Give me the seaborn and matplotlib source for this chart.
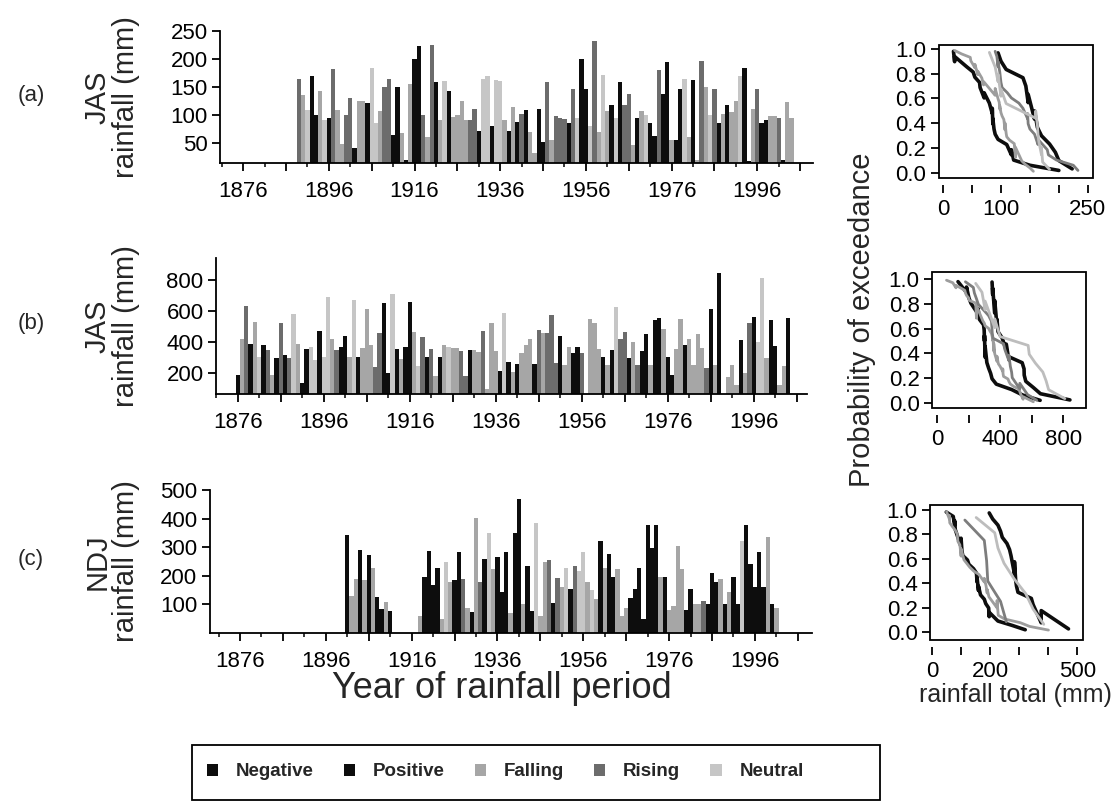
import numpy as np
import pandas as pd
import matplotlib
matplotlib.use("Agg")
import matplotlib.pyplot as plt
import seaborn as sns
from matplotlib.patches import Patch, Rectangle

sns.set_theme(style="ticks")
plt.rcParams['font.family'] = ['Liberation Sans', 'DejaVu Sans']
plt.rcParams['axes.linewidth'] = 1.3

# ---------------- data ----------------
PHASES = ["Negative", "Positive", "Falling", "Rising", "Neutral"]
CODES = {"N": "Negative", "P": "Positive", "F": "Falling", "R": "Rising", "U": "Neutral"}

# (a) JAS rainfall, 1889-2004
A_START = 1889
A_RAIN = [164, 136, 109, 170, 100, 142, 90, 95, 182, 109,
          48, 100, 131, 41, 125, 125, 122, 184, 85, 107,
          150, 164, 64, 150, 67, 20, 156, 200, 223, 99,
          60, 225, 158, 90, 160, 143, 97, 100, 125, 90,
          90, 111, 71, 164, 170, 80, 163, 160, 90, 71,
          115, 88, 102, 109, 70, 32, 110, 52, 158, 55,
          98, 95, 93, 85, 146, 95, 200, 147, 80, 233,
          70, 172, 107, 118, 95, 158, 118, 138, 47, 95,
          107, 100, 86, 63, 180, 138, 194, 55, 55, 147,
          165, 60, 163, 20, 196, 150, 100, 147, 86, 102,
          118, 105, 125, 170, 184, 18, 110, 146, 85, 90,
          98, 98, 95, 20, 123, 95]
A_PHASE = ("R F U P P F U N R F "
           "F R R N F F N U U F "
           "R R N N F N F N P R "
           "F R P F U P F F F F "
           "R R N U U N U U F N "
           "F N R P F F N N R F "
           "R R R N R U P P U R "
           "F U F N U P R R F P "
           "F U N N R P P F N P "
           "U F P F R F U R N F "
           "N F F U P N F R N N "
           "F F R N F F").split()

# (b) JAS rainfall, 1876-2004 (None = no bar)
B_START = 1876
B_RAIN = [187, 417, 632, 387, 531, 305, 380, 348, 187, 295,
          525, 316, 295, 578, 389, 133, 353, 366, 285, 473,
          305, 692, 419, 350, 366, 439, 305, 671, 305, 360,
          611, 380, 237, 456, 654, 202, 708, 353, 290, 366,
          656, 465, 245, 430, 305, 355, 180, 305, 380, 366,
          360, 360, 345, 180, 349, 349, 335, 473, 100, 520,
          345, 215, 585, 269, 205, 260, 327, 380, 417, 260,
          477, 456, 456, 574, 262, 439, 250, 366, 327, 366,
          327, 60, 546, 525, 355, 301, 250, 349, 624, 422,
          465, 299, 400, 250, 340, 452, 250, 542, 552, 487,
          301, 187, 355, 546, 380, 422, 250, 450, 360, 230,
          611, 250, 843, None, 176, 250, 120, 413, 200, 525,
          563, 400, 811, 300, 540, 376, 120, 245, 553]
B_PHASE = ("N F R P F U P R F N "
           "R N R U F N P U U N "
           "U U F R P P F U N F "
           "F F R R N N U P F P "
           "P F U R N R F N F U "
           "F F R R P F F R F F "
           "F N U N F N F F F N "
           "R F R R R P F F N P "
           "R F F F F N F N U R "
           "R N F R N P F N P F "
           "N N F F P F F F F R "
           "P F P - F F F P F R "
           "P U U F P N F F P").split()

# (c) NDJ rainfall, 1901-2001 (None = no bar)
C_START = 1901
C_RAIN = [342, 130, 190, 291, 186, 272, 227, 127, 85, 110,
          78, None, None, None, None, None, None, 61, 195, 288,
          167, 227, 50, 248, 180, 185, 284, 188, 89, 73,
          401, 180, 258, 348, 224, 267, 143, 284, 70, 348,
          470, 100, 236, 78, 385, 60, 250, 256, 106, 192,
          162, 227, 153, 236, 216, 282, 180, 152, 120, 321,
          228, 276, 197, 224, 60, 87, 122, 155, 227, 49,
          376, 296, 376, 196, 197, 80, 96, 304, 224, 80,
          155, 100, 100, 113, 103, 209, 180, 190, 100, 143,
          197, 100, 323, 376, 242, 160, 284, 160, 336, 100,
          88]
C_PHASE = ("P F F P F P F N N F "
           "N - - - - - - F N P "
           "N N F U F N P R F N "
           "F R P U F P N P F P "
           "P F P N U F F R N R "
           "F U N R U U F U F N "
           "F N N F F F N N P N "
           "P P P F N F F F F N "
           "N F F R N P N F N F "
           "P N U P P N P N F N "
           "F").split()

BAR_COLORS = {"Negative": "#0d0d0d", "Positive": "#0d0d0d", "Falling": "#a6a6a6",
              "Rising": "#6c6c6c", "Neutral": "#c6c6c6"}
LINE_COLORS = {"Negative": "#0d0d0d", "Positive": "#0d0d0d", "Falling": "#9d9d9d",
               "Rising": "#7d7d7d", "Neutral": "#bdbdbd"}
LINE_WIDTHS = {"Negative": 2.6, "Positive": 2.6, "Falling": 2.0, "Rising": 2.0, "Neutral": 2.0}


def make_df(start, rain, phase):
    df = pd.DataFrame({"year": np.arange(start, start + len(rain)),
                       "rain": rain, "code": phase})
    df = df[df["code"] != "-"].copy()
    df["rain"] = df["rain"].astype(float)
    df["phase"] = df["code"].map(CODES)
    return df


def exceedance(df):
    rows = []
    for ph in PHASES:
        v = np.sort(df.loc[df["phase"] == ph, "rain"].values)
        n = len(v)
        p = 1 - (np.arange(1, n + 1) - 0.5) / n
        rows.append(pd.DataFrame({"rain": v, "prob": p, "phase": ph}))
    return pd.concat(rows, ignore_index=True)


W, H = 1119, 810
fig = plt.figure(figsize=(W / 100, H / 100), dpi=100)


def fax(l, r, t, b):
    return fig.add_axes([l / W, 1 - b / H, (r - l) / W, (b - t) / H])


TFS = 16
panels = [
    dict(df=make_df(A_START, A_RAIN, A_PHASE), box=(220, 813, 31, 163), xlim=(1870.6, 2009.0),
         ylim=(14, 250), yticks=[50, 100, 150, 200, 250], lab="(a)", ylab="JAS\nrainfall (mm)",
         rbox=(939, 1093, 45, 178), rxlim=(-7, 259), rylim=(-0.04, 1.03),
         rxt=[0, 50, 100, 150, 200, 250], rxl=["0", "", "100", "", "", "250"]),
    dict(df=make_df(B_START, B_RAIN, B_PHASE), box=(216, 807, 258, 394), xlim=(1870.95, 2008.4),
         ylim=(65, 942), yticks=[200, 400, 600, 800], lab="(b)", ylab="JAS\nrainfall (mm)",
         rbox=(932, 1086, 272, 408), rxlim=(-32, 945), rylim=(-0.04, 1.056),
         rxt=[0, 200, 400, 600, 800], rxl=["0", "", "400", "", "800"]),
    dict(df=make_df(C_START, C_RAIN, C_PHASE), box=(210, 812, 490, 633), xlim=(1869.0, 2009.3),
         ylim=(0, 500), yticks=[100, 200, 300, 400, 500], lab="(c)", ylab="NDJ\nrainfall (mm)",
         rbox=(930, 1083, 505, 640), rxlim=(-7, 520), rylim=(-0.066, 1.04),
         rxt=[0, 100, 200, 300, 400, 500], rxl=["0", "", "200", "", "", "500"]),
]

xt_major = np.arange(1876, 2010, 10)
xt_labels = [str(y) if (y - 1876) % 20 == 0 else "" for y in xt_major]

for P in panels:
    l, r, t, b = P["box"]
    ax = fax(l, r, t, b)
    sns.barplot(data=P["df"], x="year", y="rain", hue="phase", hue_order=PHASES,
                palette=BAR_COLORS, native_scale=True, dodge=False, width=1.0,
                errorbar=None, saturation=1, legend=False, linewidth=0, ax=ax)
    ax.set_xlim(*P["xlim"])
    ax.set_ylim(*P["ylim"])
    ax.set_xticks(xt_major)
    ax.set_xticklabels(xt_labels)
    ax.set_xticks(np.arange(1871, 2010, 5), minor=True)
    ax.set_yticks(P["yticks"])
    ax.tick_params(axis="both", which="major", labelsize=TFS, length=6, width=1.3,
                   color="black", labelcolor="black")
    ax.tick_params(axis="x", which="major", pad=7)
    ax.tick_params(axis="y", which="major", pad=3)
    ax.tick_params(axis="x", which="minor", length=3, width=1.1, color="black")
    ax.set_xlabel("")
    ax.set_ylabel("")
    ax.set_facecolor("none")
    sns.despine(ax=ax)
    for s in ("left", "bottom"):
        ax.spines[s].set_color("black")
    cy = (t + b) / 2
    fig.text(112 / W, 1 - cy / H, P["ylab"], rotation=90, ha="center", va="center",
             multialignment="center", fontsize=21, linespacing=1.0)
    fig.text(31 / W, 1 - (cy - 2) / H, P["lab"], ha="center", va="center", fontsize=16)

    # exceedance panel
    l, r, t, b = P["rbox"]
    rx = fax(l, r, t, b)
    ex = exceedance(P["df"])
    sns.lineplot(data=ex, x="rain", y="prob", hue="phase", hue_order=PHASES,
                 palette=LINE_COLORS, size="phase", sizes=LINE_WIDTHS, size_order=PHASES,
                 estimator=None, sort=True, legend=False, ax=rx)
    rx.set_xlim(*P["rxlim"])
    rx.set_ylim(*P["rylim"])
    rx.set_yticks([0, 0.2, 0.4, 0.6, 0.8, 1.0])
    rx.set_yticklabels(["0.0", "0.2", "0.4", "0.6", "0.8", "1.0"])
    rx.set_xticks(P["rxt"])
    rx.set_xticklabels(P["rxl"])
    rx.tick_params(axis="both", labelsize=TFS, length=6, width=1.3, color="black",
                   labelcolor="black")
    rx.tick_params(axis="x", pad=4)
    rx.tick_params(axis="y", pad=3)
    rx.set_xlabel("")
    rx.set_ylabel("")
    for s in ("top", "right", "left"):
        rx.spines[s].set_visible(False)
    rx.spines["bottom"].set_position(("outward", 5))
    rx.spines["bottom"].set_visible(False)
    rx.add_patch(Rectangle((0, 0), 1, 1, transform=rx.transAxes, fill=False,
                           edgecolor="black", linewidth=1.3, clip_on=False, zorder=5))

fig.text(502 / W, 1 - 688 / H, "Year of rainfall period", ha="center", va="center",
         fontsize=26)
fig.text(862 / W, 1 - 320 / H, "Probability of exceedance", rotation=90, ha="center",
         va="center", fontsize=21)
fig.text(1015 / W, 1 - 695 / H, "rainfall total (mm)", ha="center", va="center",
         fontsize=18)

# legend: frame drawn separately (the entries do not fill the box)
fig.add_artist(Rectangle((192 / W, 1 - 800 / H), (880 - 192) / W, 55 / H,
                         transform=fig.transFigure, fill=False, edgecolor="black",
                         linewidth=1.3))
handles = [Patch(facecolor=BAR_COLORS[p], edgecolor="none", label=p) for p in PHASES]
leg = fig.legend(handles=handles, loc="center left", bbox_to_anchor=(207 / W, 1 - 772 / H),
                 ncol=5, frameon=False, handlelength=0.6, handleheight=0.6,
                 handletextpad=0.95, columnspacing=1.6, borderpad=0, borderaxespad=0,
                 prop={"size": 13.5, "weight": "bold"})

fig.savefig("out.png", dpi=100, facecolor="white")
